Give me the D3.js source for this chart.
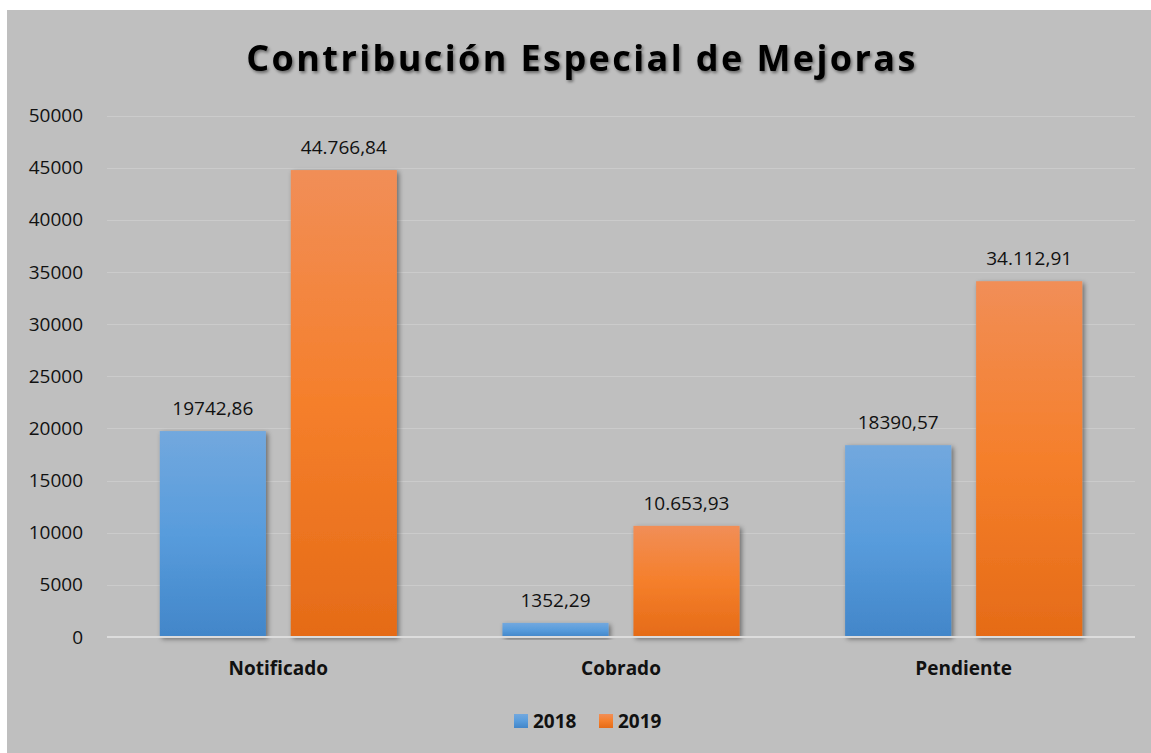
<!DOCTYPE html>
<html>
<head>
<meta charset="utf-8">
<script src="https://cdn.jsdelivr.net/npm/d3@7"></script>
<style>
  body { margin: 0; background: #fff; }
  svg { display: block; font-family: Lato, "Open Sans", sans-serif; }
</style>
</head>
<body>
<div id="chart"></div>
<script>
const categories = ['Notificado', 'Cobrado', 'Pendiente'];
const series = ['2018', '2019'];
const values2018 = [19742.86, 1352.29, 18390.57];
const values2019 = [44766.84, 10653.93, 34112.91];
const labels2018 = ['19742,86', '1352,29', '18390,57'];
const labels2019 = ['44.766,84', '10.653,93', '34.112,91'];
const yTicks = [0, 5000, 10000, 15000, 20000, 25000, 30000, 35000, 40000, 45000, 50000];

const w = 1151;
const h = 753;
const plot = { left: 107, right: 1135, top: 115.5, bottom: 637 };

const data = categories.map((c, i) => ({
    cat: c,
    bars: [
        { s: '2018', v: values2018[i], label: labels2018[i] },
        { s: '2019', v: values2019[i], label: labels2019[i] }
    ]
}));

const svg = d3.select('#chart').append('svg').attr('width', w).attr('height', h);

const defs = svg.append('defs');
const grads = {
    '2018': ['#72a8de', '#589cdc', '#4286c9'],
    '2019': ['#f18e57', '#f57f2b', '#e56b17']
};
Object.keys(grads).forEach(k => {
    const g = defs.append('linearGradient').attr('id', 'g' + k)
        .attr('x1', 0).attr('y1', 0).attr('x2', 0).attr('y2', 1);
    g.append('stop').attr('offset', '0%').attr('stop-color', grads[k][0]);
    g.append('stop').attr('offset', '50%').attr('stop-color', grads[k][1]);
    g.append('stop').attr('offset', '100%').attr('stop-color', grads[k][2]);
});
const sh = defs.append('filter').attr('id', 'shadow')
    .attr('x', '-20%').attr('y', '-20%').attr('width', '140%').attr('height', '140%');
sh.append('feDropShadow').attr('dx', 2).attr('dy', 2).attr('stdDeviation', 2.5)
    .attr('flood-color', '#000').attr('flood-opacity', 0.45);
const tsh = defs.append('filter').attr('id', 'tshadow')
    .attr('x', '-10%').attr('y', '-30%').attr('width', '120%').attr('height', '160%');
tsh.append('feDropShadow').attr('dx', 1.5).attr('dy', 2).attr('stdDeviation', 1.5)
    .attr('flood-color', '#000').attr('flood-opacity', 0.45);

// background
svg.append('rect').attr('x', 7).attr('y', 10).attr('width', w - 7).attr('height', h - 10)
    .attr('fill', '#bfbfbf');

const yScale = d3.scaleLinear().domain([0, 50000]).range([plot.bottom, plot.top]);
const x0 = d3.scaleBand().domain(categories).range([plot.left, plot.right]);
const x1 = d3.scaleBand().domain(series).range([0, x0.bandwidth()])
    .paddingInner(0.19).paddingOuter(0.403);

// gridlines
svg.append('g').selectAll('line').data(yTicks.filter(t => t > 0)).enter().append('line')
    .attr('x1', plot.left).attr('x2', plot.right)
    .attr('y1', d => Math.round(yScale(d)) + 0.5).attr('y2', d => Math.round(yScale(d)) + 0.5)
    .attr('stroke', '#cbcbcb').attr('stroke-width', 1);

// y axis
const yAxis = d3.axisLeft(yScale).tickValues(yTicks).tickSize(0).tickPadding(0).tickFormat(d => d);
const yg = svg.append('g').attr('transform', 'translate(83,0)').call(yAxis);
yg.select('.domain').remove();
yg.selectAll('text').attr('font-size', 19).attr('fill', '#111').attr('font-family', '"Open Sans", sans-serif');

// bars
const groups = svg.selectAll('.grp').data(data).enter().append('g')
    .attr('class', 'grp').attr('transform', d => `translate(${x0(d.cat)},0)`);
groups.selectAll('rect').data(d => d.bars).enter().append('rect')
    .attr('x', d => x1(d.s)).attr('width', x1.bandwidth())
    .attr('y', d => yScale(d.v)).attr('height', d => yScale(0) - yScale(d.v))
    .attr('fill', d => `url(#g${d.s})`).attr('filter', 'url(#shadow)');
groups.selectAll('text').data(d => d.bars).enter().append('text')
    .attr('x', d => x1(d.s) + x1.bandwidth() / 2).attr('y', d => yScale(d.v) - 16)
    .attr('text-anchor', 'middle').attr('font-size', 19).attr('fill', '#111')
    .attr('font-family', '"Open Sans", sans-serif')
    .text(d => d.label);

// x axis baseline
svg.append('line').attr('x1', plot.left).attr('x2', plot.right)
    .attr('y1', plot.bottom).attr('y2', plot.bottom)
    .attr('stroke', '#dcdcdc').attr('stroke-width', 2);

const xAxis = d3.axisBottom(x0).tickSize(0).tickPadding(0);
const xg = svg.append('g').attr('transform', `translate(0,${plot.bottom + 24})`).call(xAxis);
xg.select('.domain').remove();
xg.selectAll('text').attr('font-size', 19).attr('font-weight', 'bold').attr('fill', '#111')
    .attr('font-family', '"Open Sans", sans-serif').attr('dy', '0.71em');

// title
svg.append('text').attr('x', 582).attr('y', 71).attr('text-anchor', 'middle')
    .attr('font-size', 36).attr('font-weight', 'bold').attr('letter-spacing', 2.4)
    .attr('font-family', '"Open Sans", sans-serif')
    .attr('fill', '#000').attr('filter', 'url(#tshadow)')
    .text('Contribución Especial de Mejoras');

// legend
const legend = svg.append('g').attr('transform', 'translate(514,714)');
const items = [{ s: '2018', x: 0 }, { s: '2019', x: 85 }];
items.forEach(it => {
    legend.append('rect').attr('x', it.x).attr('y', 0).attr('width', 14).attr('height', 14)
        .attr('fill', `url(#g${it.s})`);
    legend.append('text').attr('x', it.x + 19).attr('y', 14)
        .attr('font-size', 19).attr('font-weight', 'bold').attr('fill', '#111')
        .attr('font-family', '"Open Sans", sans-serif')
        .text(it.s);
});
</script>
</body>
</html>
